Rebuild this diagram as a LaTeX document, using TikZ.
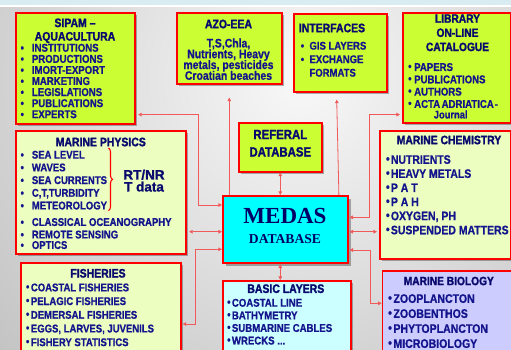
\documentclass[tikz,border=0pt]{standalone}
\usepackage{fontspec}
\setmainfont{Liberation Sans}[FakeStretch=0.85, BoldFeatures={FakeBold=0.8}]
\newfontfamily\heavyfont{Liberation Sans}[FakeStretch=0.85, BoldFeatures={FakeBold=1.6}]
\newfontfamily\widefont{Liberation Sans}[BoldFeatures={FakeBold=1.2}]
\newfontfamily\seriffont{Liberation Serif}
\usetikzlibrary{shadows,arrows.meta,calc,decorations.pathreplacing}
\definecolor{bright}{RGB}{204,255,51}
\definecolor{pale}{RGB}{236,255,192}
\definecolor{cyanb}{RGB}{0,255,255}
\definecolor{palecyan}{RGB}{204,255,255}
\definecolor{lav}{RGB}{204,204,255}
\definecolor{bord}{RGB}{255,0,0}
\definecolor{ink}{RGB}{20,20,140}
\definecolor{tink}{RGB}{10,10,110}
\definecolor{medink}{RGB}{0,0,102}
\definecolor{connc}{RGB}{240,90,90}
\definecolor{bandc}{RGB}{216,236,242}
\definecolor{bgin}{RGB}{248,248,248}
\definecolor{bgout}{RGB}{160,160,160}
\newcommand\myfs[2]{\fontsize{#1}{#2}\selectfont\bfseries\lineskiplimit=-20pt}
\newcommand\myft[2]{\heavyfont\fontsize{#1}{#2}\selectfont\bfseries\lineskiplimit=-20pt}
\newcommand\rtfont{\widefont\bfseries\fontsize{13.5}{12}\selectfont\lineskiplimit=-20pt}
\newcommand\bulA[1]{\makebox[#1][l]{\textbullet}}
\newcommand\bulB[1]{\makebox[#1][l]{\raisebox{0.8pt}{\textbullet}}}
\tikzset{
  box/.style={draw=bord, line width=1.6pt, inner sep=0pt, anchor=north west,
    drop shadow={shadow xshift=2.5pt, shadow yshift=-2.5pt, fill=black, opacity=0.3}},
  ttl/.style={text=tink, inner sep=0pt},
  items/.style={text=ink, align=left, anchor=north west, inner sep=0pt},
  conn/.style={draw=connc, line width=0.8pt},
}
\begin{document}
\begin{tikzpicture}[x=1pt,y=-1pt,>={Triangle[length=3.6pt,width=3.6pt]}]
\useasboundingbox (0,0) rectangle (511,349);
\begin{scope}
  \clip (0,0) rectangle (511,349);
  \shade[inner color=bgin, outer color=bgout] (300,80) circle (680pt);
\end{scope}
\fill[bandc] (0,0) rectangle (511,5);
\fill[white] (0,5) rectangle (511,7);

% SIPAM
\node[box, fill=bright, minimum width=119pt, minimum height=111pt] (sipam) at (15,12) {};
\node[ttl, align=center, anchor=north, font=\myft{12.3}{13.5}] (sipamt) at (75,18.3) {SIPAM –\\AQUACULTURA};
\node[items, font=\myfs{11.3}{11.08}] (sipami) at (20.4,43.6) {\bulA{11.3pt}INSTITUTIONS\\\bulA{11.3pt}PRODUCTIONS\\\bulA{11.3pt}IMORT-EXPORT\\\bulA{11.3pt}MARKETING\\\bulA{11.3pt}LEGISLATIONS\\\bulA{11.3pt}PUBLICATIONS\\\bulA{11.3pt}EXPERTS};

% AZO-EEA
\node[box, fill=bright, minimum width=105pt, minimum height=71pt] (azo) at (176,12) {};
\node[ttl, font=\myft{12.3}{13}] (azot) at (228.5,24) {AZO-EEA};
\node[ttl, text=ink, align=center, anchor=north, font=\myfs{12.3}{10.8}] (azoi) at (228.5,38.3) {T,S,Chla,\\Nutrients, Heavy\\metals, pesticides\\Croatian beaches};

% INTERFACES
\node[box, fill=bright, minimum width=93pt, minimum height=78pt] (interf) at (293,13) {};
\node[ttl, font=\myft{12.3}{13}] (interft) at (332,28) {INTERFACES};
\node[items, font=\myfs{11.2}{13.5}] (interfi) at (300.6,41.6) {\bulA{8.7pt}GIS LAYERS\\\bulA{8.7pt}EXCHANGE\\\makebox[8.7pt]{}FORMATS};

% LIBRARY
\node[box, fill=bright, minimum width=108pt, minimum height=110pt] (library) at (402,12) {};
\node[ttl, align=center, anchor=north, font=\myft{12}{14.2}] (libraryt) at (457.5,14.2) {LIBRARY\\ON-LINE\\CATALOGUE};
\node[items, font=\myfs{11.3}{12.3}] (libraryi) at (408,62.9) {\bulB{6pt}PAPERS\\\bulB{6pt}PUBLICATIONS\\\bulB{6pt}AUTHORS\\\bulB{6pt}ACTA\hspace{1.5pt}ADRIATICA\hspace{1pt}-};
\node[ttl, text=ink, font=\myfs{11}{11}] (libraryj) at (450.7,114.5) {Journal};

% MARINE PHYSICS
\node[box, fill=pale, minimum width=170pt, minimum height=123pt] (physics) at (15,130) {};
\node[ttl, font=\myft{12.3}{13}] (physicst) at (100.8,142) {MARINE PHYSICS};
\node[items, font=\myfs{11.2}{12.7}] (physicsi) at (20.4,150.6) {\bulA{11.3pt}SEA LEVEL\\\bulA{11.3pt}WAVES\\\bulA{11.3pt}SEA CURRENTS\\\bulA{11.3pt}C,T,TURBIDITY\\\bulA{11.3pt}METEOROLOGY\\[3.8pt]\bulA{11.3pt}CLASSICAL OCEANOGRAPHY\\[-0.2pt]\bulA{11.3pt}REMOTE SENSING\\[-2.2pt]\bulA{11.3pt}OPTICS};
\draw[draw=bord, line width=1.1pt, decorate, decoration={brace, amplitude=4pt}] (108.5,148) -- (108.5,210.7);
\node[ttl, align=center, anchor=north, font=\rtfont] (rtnrt) at (144,169.5) {RT/NR\\T data};

% REFERAL
\node[box, fill=bright, minimum width=83pt, minimum height=49pt] (referal) at (238,122) {};
\node[ttl, align=center, anchor=north, font=\myft{13.4}{17.4}] (referalt) at (280.3,129.7) {REFERAL\\DATABASE};

% MEDAS
\node[box, fill=cyanb, line width=2.4pt, minimum width=125pt, minimum height=67pt] (medas) at (222,195) {};
\node[text=medink, inner sep=0pt, font=\seriffont\bfseries\fontsize{23}{23}\selectfont] (medast) at (285,215.8) {MEDAS};
\node[text=medink, inner sep=0pt, font=\seriffont\bfseries\fontsize{13.6}{14}\selectfont] (medasd) at (285,238.7) {DATABASE};

% MARINE CHEMISTRY
\node[box, fill=pale, minimum width=131pt, minimum height=128pt] (chem) at (379,130) {};
\node[ttl, font=\myft{12.2}{13}] (chemt) at (449,140) {MARINE CHEMISTRY};
\node[items, font=\myfs{12.3}{14.1}] (chemi) at (385.8,155) {\bulB{4.9pt}NUTRIENTS\\\bulB{4.9pt}HEAVY METALS\\\bulB{4.9pt}P A T\\\bulB{4.9pt}P A H\\\bulB{4.9pt}OXYGEN, PH\\\bulB{4.9pt}SUSPENDED MATTERS};

% FISHERIES
\node[box, fill=pale, minimum width=160pt, minimum height=100pt] (fish) at (20,262) {};
\node[ttl, font=\myft{12.3}{13}] (fisht) at (98,273.3) {FISHERIES};
\node[items, font=\myfs{11.2}{13.7}] (fishi) at (25.8,283.3) {\bulB{4.9pt}COASTAL FISHERIES\\\bulB{4.9pt}PELAGIC FISHERIES\\\bulB{4.9pt}DEMERSAL FISHERIES\\\bulB{4.9pt}EGGS, LARVES, JUVENILS\\\bulB{4.9pt}FISHERY STATISTICS};

% BASIC LAYERS
\node[box, fill=palecyan, minimum width=128pt, minimum height=80pt] (basic) at (222,280) {};
\node[ttl, font=\myft{12.3}{13}] (basict) at (285.8,288.7) {BASIC LAYERS};
\node[items, font=\myfs{11.3}{12.6}] (basici) at (227,298.6) {\bulB{4.7pt}COASTAL LINE\\\bulB{4.7pt}BATHYMETRY\\\bulB{4.7pt}SUBMARINE CABLES\\\bulB{4.7pt}WRECKS ...};

% MARINE BIOLOGY
\node[box, fill=lav, minimum width=131pt, minimum height=90pt] (bio) at (381.7,270) {};
\node[ttl, font=\myft{12}{13}] (biot) at (448.8,281) {MARINE BIOLOGY};
\node[items, font=\myfs{12.4}{15}] (bioi) at (388,294) {\bulB{5.3pt}ZOOPLANCTON\\\bulB{5.3pt}ZOOBENTHOS\\\bulB{5.3pt}PHYTOPLANCTON\\\bulB{5.3pt}MICROBIOLOGY};

% connectors
\draw[conn,<->] ($(medas.north west)+(0,10)$) -- ++(-24,0) |- ($(sipam.south east)+(2.5,-10)$);
\draw[conn,->] (medas.north -| azo.south) -- ($(azo.south)+(0,13)$);
\draw[conn,->] ($(medas.north east)+(-10.5,0)$) -- ($(interf.south west)+(43.7,7)$);
\draw[conn,<->] (medas.north -| referal.south) -- (referal.south);
\draw[conn,<->] ($(medas.north east)+(0,22.3)$) -- ++(20,0) |- ($(library.south west)+(-2,-9)$);
\draw[conn,<->] ($(medas.north east)+(0,36.7)$) -- ($(chem.north west)+(-2,101.7)$);
\draw[conn,<->] ($(medas.north east)+(0,55)$) -- ++(21,0) |- ($(bio.north west)+(0,33.3)$);
\draw[conn,<->] (medas.south -| referal.south) -- (basic.north -| referal.south);
\draw[conn,<->] ($(medas.north west)+(0,36.7)$) -- ($(physics.north east)+(2.5,101.7)$);
\draw[conn,<->] ($(medas.north west)+(0,54.3)$) -- ++(-27,0) |- ($(fish.north east)+(1,62)$);
\end{tikzpicture}
\end{document}
